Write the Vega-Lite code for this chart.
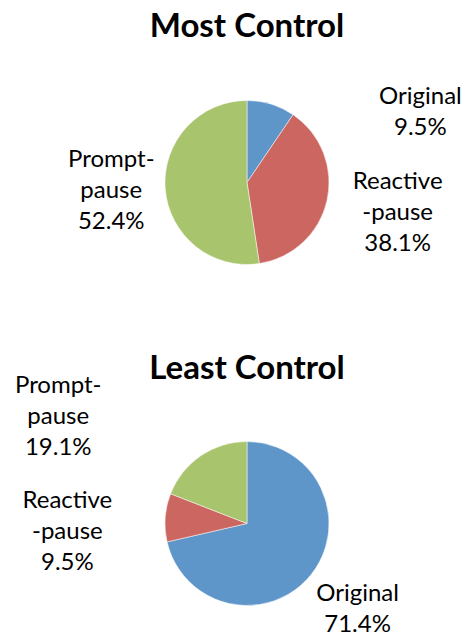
{
  "$schema": "https://vega.github.io/schema/vega-lite/v6.json",
  "background": "white",
  "padding": {"left": 0, "top": 11, "right": 0, "bottom": 0},
  "spacing": 40,
  "config": {
    "view": {"stroke": null},
    "title": {"font": "Lato", "fontSize": 33, "fontWeight": "bold", "color": "black", "anchor": "middle", "frame": "group", "offset": 8, "baseline": "top"},
    "text": {"font": "Lato", "fontSize": 24, "lineHeight": 31, "color": "black", "align": "center", "baseline": "middle", "lineBreak": "\n"}
  },
  "datasets": {
    "most": [
      {"name": "Original", "label": "Original", "pct": 9.5, "rank": 1},
      {"name": "Reactive-pause", "label": "Reactive\n-pause", "pct": 38.1, "rank": 2},
      {"name": "Prompt-pause", "label": "Prompt-\npause", "pct": 52.4, "rank": 3}
    ],
    "least": [
      {"name": "Original", "label": "Original", "pct": 71.4, "rank": 1},
      {"name": "Reactive-pause", "label": "Reactive\n-pause", "pct": 9.5, "rank": 2},
      {"name": "Prompt-pause", "label": "Prompt-\npause", "pct": 19.1, "rank": 3}
    ]
  },
  "vconcat": [
    {
      "title": "Most Control",
      "width": 494,
      "height": 261,
      "data": {"name": "most"},
      "transform": [{"calculate": "datum.label + '\\n' + format(datum.pct, '.1f') + '%'", "as": "txt"}],
      "encoding": {
        "theta": {"field": "pct", "type": "quantitative", "stack": true},
        "order": {"field": "rank", "type": "quantitative"},
        "detail": {"field": "name", "type": "nominal"}
      },
      "layer": [
        {
          "mark": {"type": "arc", "outerRadius": 82, "stroke": "white", "strokeWidth": 0.5},
          "encoding": {
            "color": {"field": "name", "type": "nominal", "legend": null,
              "scale": {"domain": ["Original", "Reactive-pause", "Prompt-pause"], "range": ["#5E96CA", "#CC6660", "#A8C46C"]}}
          }
        },
        {
          "mark": {"type": "text", "radius": 100, "dx": 144, "dy": 10},
          "encoding": {"text": {"condition": {"test": "datum.name === 'Original'", "field": "txt", "type": "nominal"}, "value": ""}}
        },
        {
          "mark": {"type": "text", "radius": 95, "dx": 58, "dy": -22},
          "encoding": {"text": {"condition": {"test": "datum.name === 'Reactive-pause'", "field": "txt", "type": "nominal"}, "value": ""}}
        },
        {
          "mark": {"type": "text", "radius": 90, "dx": -46, "dy": -29},
          "encoding": {"text": {"condition": {"test": "datum.name === 'Prompt-pause'", "field": "txt", "type": "nominal"}, "value": ""}}
        }
      ]
    },
    {
      "title": {"text": "Least Control", "offset": -12},
      "width": 494,
      "height": 261,
      "data": {"name": "least"},
      "transform": [{"calculate": "datum.label + '\\n' + format(datum.pct, '.1f') + '%'", "as": "txt"}],
      "encoding": {
        "theta": {"field": "pct", "type": "quantitative", "stack": true},
        "order": {"field": "rank", "type": "quantitative"},
        "detail": {"field": "name", "type": "nominal"}
      },
      "layer": [
        {
          "mark": {"type": "arc", "outerRadius": 82, "stroke": "white", "strokeWidth": 0.5},
          "encoding": {
            "color": {"field": "name", "type": "nominal", "legend": null,
              "scale": {"domain": ["Original", "Reactive-pause", "Prompt-pause"], "range": ["#5E96CA", "#CC6660", "#A8C46C"]}}
          }
        },
        {
          "mark": {"type": "text", "radius": 140, "dx": 1, "dy": -17},
          "encoding": {"text": {"condition": {"test": "datum.name === 'Original'", "field": "txt", "type": "nominal"}, "value": ""}}
        },
        {
          "mark": {"type": "text", "radius": 145, "dx": -35, "dy": -12},
          "encoding": {"text": {"condition": {"test": "datum.name === 'Reactive-pause'", "field": "txt", "type": "nominal"}, "value": ""}}
        },
        {
          "mark": {"type": "text", "radius": 120, "dx": -121, "dy": -38},
          "encoding": {"text": {"condition": {"test": "datum.name === 'Prompt-pause'", "field": "txt", "type": "nominal"}, "value": ""}}
        }
      ]
    }
  ]
}
